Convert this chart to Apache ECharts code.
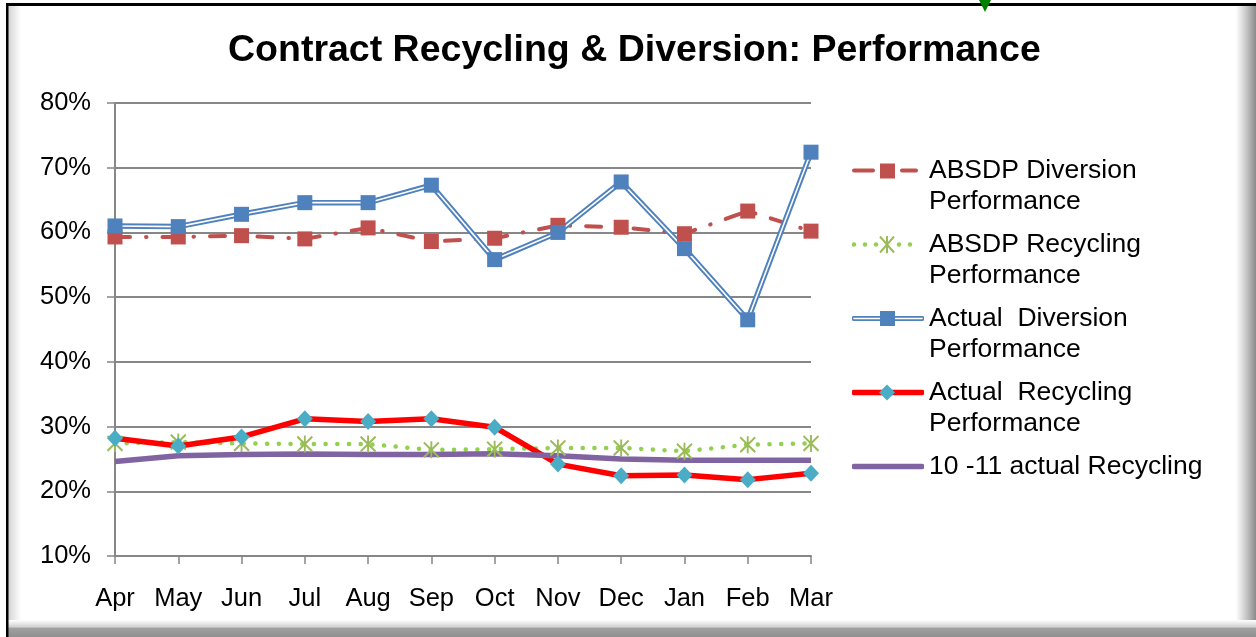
<!DOCTYPE html>
<html><head><meta charset="utf-8">
<script src="https://cdn.jsdelivr.net/npm/echarts@6/dist/echarts.min.js"></script>
<style>html,body{margin:0;padding:0;background:#fff}#c{width:1256px;height:637px}</style>
</head><body><div id="c"></div>
<script>
const months = ['Apr','May','Jun','Jul','Aug','Sep','Oct','Nov','Dec','Jan','Feb','Mar'];
const absdpDiversion = [59.3, 59.3, 59.5, 59.0, 60.7, 58.6, 59.1, 61.1, 60.8, 59.8, 63.3, 60.2];
const absdpRecycling = [27.4, 27.6, 27.4, 27.3, 27.3, 26.4, 26.5, 26.7, 26.7, 26.2, 27.2, 27.4];
const actualDiversion = [61.0, 60.9, 62.8, 64.6, 64.6, 67.3, 55.8, 60.0, 67.8, 57.5, 46.5, 72.4];
const actualRecycling = [28.2, 27.0, 28.4, 31.2, 30.8, 31.2, 29.9, 24.2, 22.4, 22.5, 21.8, 22.8];
const recycling1011 = [24.6, 25.5, 25.7, 25.75, 25.7, 25.7, 25.8, 25.5, 25.0, 24.8, 24.8, 24.8];
const seriesNames = ['ABSDP Diversion Performance','ABSDP Recycling Performance','Actual  Diversion Performance','Actual  Recycling Performance','10 -11 actual Recycling'];
const legendLabels = ['ABSDP Diversion\nPerformance','ABSDP Recycling\nPerformance','Actual  Diversion\nPerformance','Actual  Recycling\nPerformance','10 -11 actual Recycling'];

const FONT = '"Liberation Sans", Arial, sans-serif';
const C_RED = '#C0504D', C_GREEN = '#9BBB59', C_DOT = '#92D050', C_BLUE = '#4F81BD', C_RR = '#FF0000', C_DIA = '#4BACC6', C_PUR = '#8064A2';

function svgIcon(body) {
  const svg = '<svg xmlns="http://www.w3.org/2000/svg" width="72" height="18" viewBox="0 0 72 18">' + body + '</svg>';
  return 'image://data:image/svg+xml;charset=utf-8,' + encodeURIComponent(svg);
}
const icons = [
  svgIcon('<g stroke="'+C_RED+'" stroke-width="4" stroke-linecap="round"><line x1="2" y1="9" x2="21" y2="9"/><line x1="50" y1="9" x2="64" y2="9"/></g><rect x="28" y="2" width="15" height="15" fill="'+C_RED+'"/>'),
  svgIcon('<g fill="'+C_DOT+'"><circle cx="2" cy="9" r="2.2"/><circle cx="13" cy="9" r="2.2"/><circle cx="24" cy="9" r="2.2"/><circle cx="47" cy="9" r="2.2"/><circle cx="58" cy="9" r="2.2"/></g><g stroke="'+C_GREEN+'" stroke-width="2"><line x1="28" y1="1" x2="42" y2="17"/><line x1="42" y1="1" x2="28" y2="17"/><line x1="35" y1="0" x2="35" y2="18"/></g>'),
  svgIcon('<line x1="2" y1="9" x2="70" y2="9" stroke="'+C_BLUE+'" stroke-width="5" stroke-linecap="round"/><line x1="2" y1="9" x2="70" y2="9" stroke="#fff" stroke-width="1.6" stroke-linecap="round"/><rect x="28" y="1.5" width="15" height="15" fill="'+C_BLUE+'"/>'),
  svgIcon('<line x1="2" y1="9" x2="70" y2="9" stroke="'+C_RR+'" stroke-width="5.5" stroke-linecap="round"/><polygon points="35,1 43,9 35,17 27,9" fill="'+C_DIA+'"/>'),
  svgIcon('<line x1="2" y1="9" x2="70" y2="9" stroke="'+C_PUR+'" stroke-width="5.5" stroke-linecap="round"/>')
];

const chart = echarts.init(document.getElementById('c'), null, {renderer: 'canvas'});
const gridGray = '#878787';
chart.setOption({
  animation: false,
  backgroundColor: '#fff',
  textStyle: {fontFamily: FONT},
  title: {
    text: 'Contract Recycling & Diversion: Performance',
    left: 223, top: 27, padding: 5,
    textStyle: {fontFamily: FONT, fontSize: 37.5, fontWeight: 'bold', color: '#000'}
  },
  graphic: [
    {type: 'rect', z: -10, shape: {x: 8, y: 6, width: 13, height: 631}, style: {fill: new echarts.graphic.LinearGradient(0, 0, 1, 0, [{offset: 0, color: '#d4d4d4'}, {offset: 1, color: '#ffffff'}])}},
    {type: 'rect', z: -10, shape: {x: 1236, y: 6, width: 20, height: 631}, style: {fill: new echarts.graphic.LinearGradient(0, 0, 1, 0, [{offset: 0, color: '#ffffff'}, {offset: 0.5, color: '#c8c8c8'}, {offset: 1, color: '#8a8a8a'}])}},
    {type: 'rect', z: -9, shape: {x: 8, y: 620, width: 1248, height: 17}, style: {fill: new echarts.graphic.LinearGradient(0, 0, 0, 1, [{offset: 0, color: '#ffffff'}, {offset: 0.4, color: '#d2d2d2'}, {offset: 0.5, color: '#a0a0a0'}, {offset: 1, color: '#8f8f8f'}])}},
    {type: 'rect', z: 5, shape: {x: 6, y: 3, width: 1250, height: 3}, style: {fill: '#000'}},
    {type: 'rect', z: 5, shape: {x: 6, y: 3, width: 2.5, height: 634}, style: {fill: '#000'}},
    {type: 'polygon', z: 6, shape: {points: [[979, 0], [991, 0], [985, 12]]}, style: {fill: '#008000'}}
  ],
  grid: {left: 115, right: 445, top: 103, bottom: 81, containLabel: false},
  legend: {
    orient: 'vertical', left: 852, top: 124, padding: 0, itemGap: -19,
    itemWidth: 72, itemHeight: 18, selectedMode: false,
    formatter: function (name) {
      const i = seriesNames.indexOf(name);
      return i === 4 ? '\n' + legendLabels[i] + '\n' : '\n' + legendLabels[i];
    },
    textStyle: {fontFamily: FONT, fontSize: 26.5, color: '#000', lineHeight: 31},
    data: seriesNames.map(function (n, i) { return {name: n, icon: icons[i]}; })
  },
  xAxis: {
    type: 'category', data: months, boundaryGap: false,
    axisLine: {lineStyle: {color: gridGray, width: 2}},
    axisTick: {show: true, length: 8, interval: 0, lineStyle: {color: gridGray, width: 1.5}},
    axisLabel: {fontFamily: FONT, fontSize: 25.5, color: '#000', margin: 30, interval: 0}
  },
  yAxis: {
    type: 'value', min: 10, max: 80, interval: 10,
    axisLine: {show: true, lineStyle: {color: gridGray, width: 2}},
    axisTick: {show: true, length: 8, lineStyle: {color: gridGray, width: 1.5}},
    axisLabel: {fontFamily: FONT, fontSize: 25.5, color: '#000', margin: 24, formatter: '{value}%'},
    splitLine: {lineStyle: {color: gridGray, width: 2}}
  },
  series: [
    {name: seriesNames[0], type: 'line', data: absdpDiversion, symbol: 'rect', symbolSize: 15,
     itemStyle: {color: C_RED}, lineStyle: {color: C_RED, width: 4, type: [15, 16, 0.5, 16], cap: 'round'}},
    {name: seriesNames[1], type: 'line', data: absdpRecycling, symbol: 'path://M0,0L12,14M12,0L0,14M6,-1L6,15', symbolSize: [15, 17],
     itemStyle: {color: C_GREEN, borderColor: C_GREEN, borderWidth: 2}, lineStyle: {color: C_DOT, width: 4.5, type: [0.1, 11.6], cap: 'round'}},
    {name: seriesNames[2], type: 'line', data: actualDiversion, showSymbol: false, symbol: 'none',
     lineStyle: {color: C_BLUE, width: 5.5}},
    {name: 'diversionCore', type: 'line', data: actualDiversion, symbol: 'none', silent: true,
     lineStyle: {color: '#ffffff', width: 1.6}},
    {name: 'diversionMarks', type: 'line', data: actualDiversion, symbol: 'rect', symbolSize: 15, silent: true,
     itemStyle: {color: C_BLUE}, lineStyle: {width: 0, opacity: 0}},
    {name: seriesNames[3], type: 'line', data: actualRecycling, symbol: 'diamond', symbolSize: [16, 17],
     itemStyle: {color: C_DIA}, lineStyle: {color: C_RR, width: 5.5}},
    {name: seriesNames[4], type: 'line', data: recycling1011, symbol: 'none',
     lineStyle: {color: C_PUR, width: 5.5}}
  ]
});
</script>
</body></html>
